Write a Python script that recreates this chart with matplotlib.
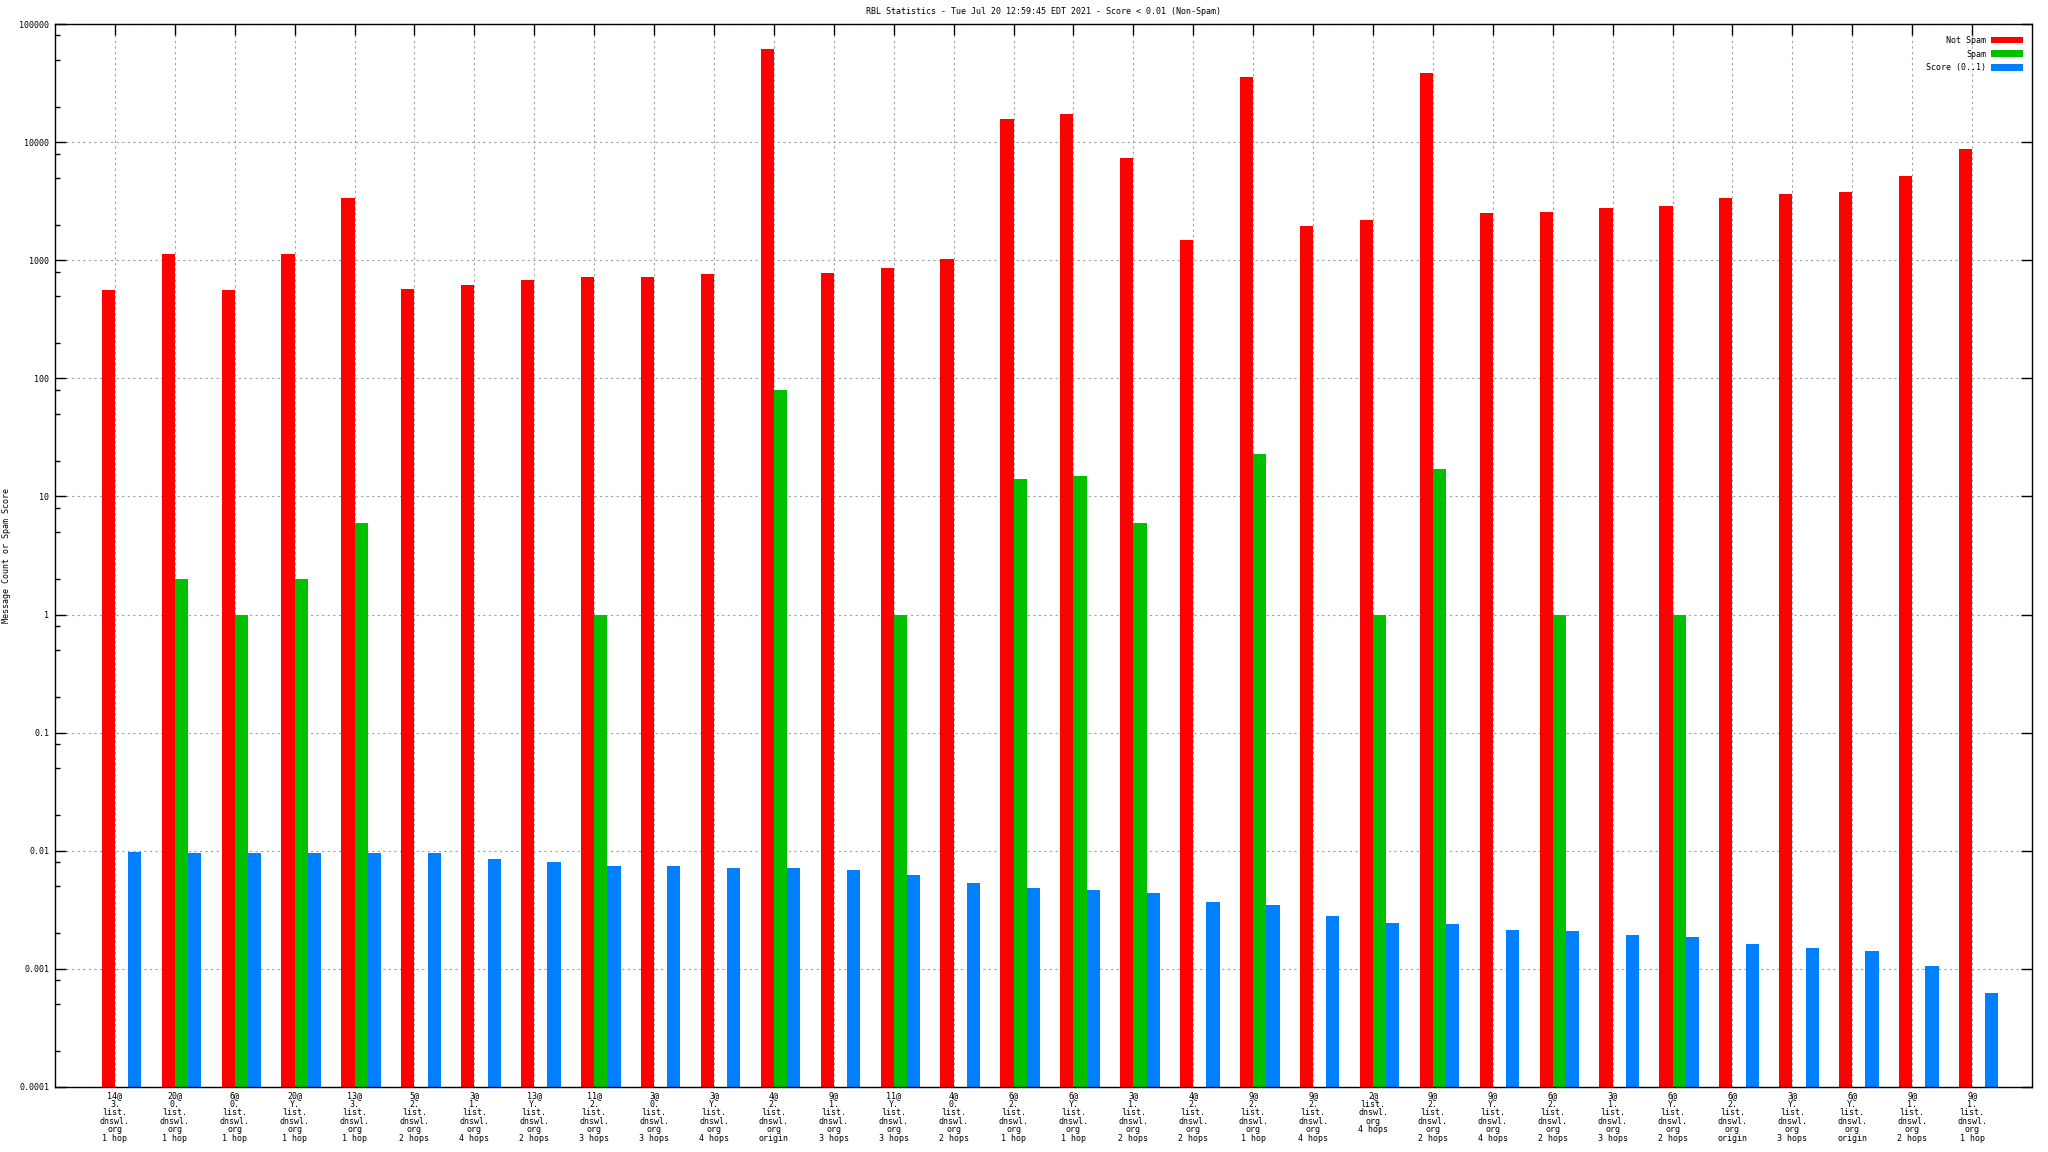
# =========================================================
# RBL Statistics - message counts and spam score per relay
# =========================================================

import numpy as np
import matplotlib
matplotlib.use("Agg")
import matplotlib.pyplot as plt
from matplotlib.ticker import LogLocator, FuncFormatter, NullFormatter


# =========================================================
# Data
# =========================================================

relay_counts = [
    "14@", "20@", "6@", "20@", "13@", "5@", "3@", "13@",
    "11@", "3@", "3@", "4@", "9@", "11@", "4@", "6@",
    "6@", "3@", "4@", "9@", "9@", "2@", "9@", "9@",
    "6@", "3@", "6@", "6@", "3@", "6@", "9@", "9@",
]

list_prefixes = [
    "3.", "0.", "0.", "Y.", "3.", "2.", "1.", "Y.",
    "2.", "0.", "Y.", "2.", "1.", "Y.", "0.", "2.",
    "Y.", "1.", "2.", "2.", "2.", "", "2.", "Y.",
    "2.", "1.", "Y.", "2.", "Y.", "Y.", "1.", "1.",
]

hop_labels = [
    "1 hop", "1 hop", "1 hop", "1 hop", "1 hop", "2 hops", "4 hops", "2 hops",
    "3 hops", "3 hops", "4 hops", "origin", "3 hops", "3 hops", "2 hops", "1 hop",
    "1 hop", "2 hops", "2 hops", "1 hop", "4 hops", "4 hops", "2 hops", "4 hops",
    "2 hops", "3 hops", "2 hops", "origin", "3 hops", "origin", "2 hops", "1 hop",
]

not_spam = [
    560, 1130, 560, 1130, 3360, 575, 620, 685,
    720, 720, 765, 61600, 780, 860, 1025, 15700,
    17400, 7360, 1490, 35700, 1950, 2190, 38600, 2510,
    2560, 2770, 2880, 3360, 3640, 3790, 5180, 8780,
]

spam = [
    0, 2, 1, 2, 6, 0, 0, 0,
    1, 0, 0, 80, 0, 1, 0, 14,
    15, 6, 0, 23, 0, 1, 17, 0,
    1, 0, 1, 0, 0, 0, 0, 0,
]

score = [
    0.0097, 0.0095, 0.0095, 0.0095, 0.0095, 0.0095, 0.0086, 0.0080,
    0.0075, 0.0075, 0.0071, 0.0071, 0.0069, 0.0062, 0.0053, 0.0048,
    0.0047, 0.0044, 0.00365, 0.0035, 0.0028, 0.00247, 0.00242, 0.00215,
    0.0021, 0.00195, 0.00188, 0.00161, 0.00149, 0.00143, 0.00105, 0.00062,
]

tick_labels = [
    "\n".join(
        part
        for part in [count, prefix, "list.", "dnswl.", "org", hops]
        if part
    )
    for count, prefix, hops in zip(relay_counts, list_prefixes, hop_labels)
]

TITLE = "RBL Statistics - Tue Jul 20 12:59:45 EDT 2021 - Score < 0.01 (Non-Spam)"


# =========================================================
# Style
# =========================================================

FONT = "DejaVu Sans Mono"
FONT_SIZE = 6

plt.rcParams["font.family"] = FONT
plt.rcParams["font.size"] = FONT_SIZE

RED = "#ff0000"
GREEN = "#00c000"
BLUE = "#0080ff"
GRID = "#a0a0a0"

W, H = 2048, 1152


# =========================================================
# Figure
# =========================================================

fig = plt.figure(figsize=(W / 100, H / 100), dpi=100)

left, right, top, bottom = 55, 2032, 24, 1087
ax = fig.add_axes([
    left / W,
    1 - bottom / H,
    (right - left) / W,
    (bottom - top) / H,
])

ax.set_yscale("log")

x = np.arange(len(not_spam))
bar_w = 0.22

ax.bar(x - bar_w / 2, not_spam, width=bar_w, color=RED, linewidth=0, label="Not Spam")
ax.bar(x + bar_w / 2, spam, width=bar_w, color=GREEN, linewidth=0, label="Spam")
ax.bar(x + 3 * bar_w / 2, score, width=bar_w, color=BLUE, linewidth=0, label="Score (0..1)")

ax.set_xlim(-1, len(not_spam))
ax.set_ylim(1e-4, 1e5)


# =========================================================
# Axes, Ticks, Grid
# =========================================================

ax.set_xticks(x)
ax.set_xticklabels(tick_labels, linespacing=0.93, va="top", ha="center")

ax.yaxis.set_major_locator(LogLocator(base=10, numticks=20))
ax.yaxis.set_minor_locator(LogLocator(base=10, subs=(2, 5, 8), numticks=20))
ax.yaxis.set_major_formatter(FuncFormatter(lambda v, p: "%g" % v))
ax.yaxis.set_minor_formatter(NullFormatter())

ax.tick_params(axis="both", which="both", direction="in", width=1.0, colors="black")
ax.tick_params(axis="both", which="major", length=8)
ax.tick_params(axis="both", which="minor", length=3.6)
ax.tick_params(axis="x", top=True, bottom=False, pad=3)
ax.tick_params(axis="y", left=True, right=True, pad=4)

for spine in ax.spines.values():
    spine.set_linewidth(1.0)

ax.set_axisbelow(True)
ax.grid(True, which="major", color=GRID, linestyle=(0, (2, 3)), linewidth=0.8)


# =========================================================
# Labels and Legend
# =========================================================

fig.text(
    (left + right) / 2 / W, 1 - 12 / H, TITLE,
    ha="center", va="center", fontsize=FONT_SIZE,
)

fig.text(
    7 / W, 1 - (top + bottom) / 2 / H, "Message Count or Spam Score",
    rotation=90, ha="center", va="center", fontsize=FONT_SIZE,
)

ax.legend(
    loc="upper right",
    bbox_to_anchor=((2023 - left) / (right - left), 1 - (36 - top) / (bottom - top)),
    markerfirst=False,
    frameon=False,
    borderpad=0,
    borderaxespad=0,
    handlelength=3.85,
    handleheight=0.84,
    handletextpad=0.6,
    labelspacing=0.55,
    fontsize=FONT_SIZE,
)

fig.savefig("out.png", dpi=100)
